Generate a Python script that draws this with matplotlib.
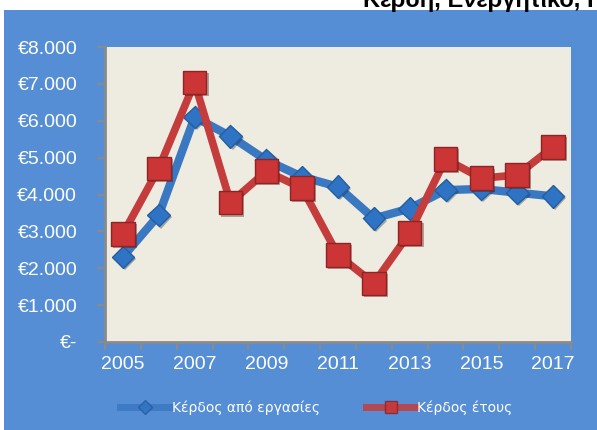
import matplotlib
matplotlib.use("Agg")
import matplotlib.pyplot as plt
import matplotlib.patches as patches
import matplotlib.patheffects as pe
from matplotlib.lines import Line2D

# --- data ---
years = [2005, 2006, 2007, 2008, 2009, 2010, 2011, 2012, 2013, 2014, 2015, 2016, 2017]
profit_ops = [2310, 3440, 6100, 5580, 4930, 4480, 4210, 3350, 3620, 4120, 4150, 4050, 3950]
profit_year = [2930, 4710, 7040, 3780, 4630, 4170, 2360, 1590, 2960, 4960, 4440, 4530, 5290]
series_names = ["Κέρδος από εργασίες", "Κέρδος έτους"]
y_ticks = [0, 1000, 2000, 3000, 4000, 5000, 6000, 7000, 8000]
y_labels = ["€-", "€1.000", "€2.000", "€3.000", "€4.000", "€5.000", "€6.000", "€7.000", "€8.000"]
title_text = "Κέρδη, Ενεργητικό, Παθητικό"

# --- styles ---
BG_BLUE = "#558ED5"
PLOT_BG = "#EEECE1"
BLUE = "#3A78C2"
RED = "#C43C3C"
AXIS_GRAY = "#8A8A8A"
FONT = ["Liberation Sans Narrow", "Liberation Sans", "DejaVu Sans"]

plt.rcParams["font.family"] = FONT

fig = plt.figure(figsize=(5.97, 4.30), dpi=100, facecolor="white")
# blue chart background below the white strip that holds the (clipped) title
fig.patches.append(patches.Rectangle((4 / 597, 0), 1, 420 / 430, transform=fig.transFigure,
                                     facecolor=BG_BLUE, edgecolor="none", zorder=-10))
fig.text(363 / 597, 1 - 7 / 430, title_text, fontsize=17, fontweight="bold",
         family=["Liberation Sans", "DejaVu Sans"], va="baseline", ha="left", color="black")

ax = fig.add_axes([105 / 597, 88 / 430, 466 / 597, 295 / 430])
ax.set_facecolor(PLOT_BG)

xs = list(range(len(years)))
shadow = [pe.SimplePatchShadow(offset=(1.5, -1.5), alpha=0.35), pe.Normal()]

ax.plot(xs, profit_ops, color=BLUE, lw=6, solid_joinstyle="miter", zorder=2)
ax.plot(xs, profit_ops, ls="none", marker="D", ms=11.5, mfc="#2F73C4", mec="#245E9E",
        mew=1, zorder=3, path_effects=shadow)
ax.plot(xs, profit_year, color=RED, lw=5.5, solid_joinstyle="miter", zorder=4)
ax.plot(xs, profit_year, ls="none", marker="s", ms=17, mfc="#CC3535", mec="#8E2424",
        mew=1, zorder=5, path_effects=shadow)

ax.set_xlim(-0.5, len(years) - 0.5)
ax.set_ylim(0, 8000)

ax.set_yticks(y_ticks)
ax.set_yticklabels(y_labels)

# ticks on category boundaries, labels on every other category centre
ax.set_xticks([i - 0.5 for i in range(len(years) + 1)])
ax.set_xticklabels([])
ax.set_xticks(xs[::2], minor=True)
ax.set_xticklabels([str(y) for y in years[::2]], minor=True)

ax.tick_params(axis="y", colors=AXIS_GRAY, labelcolor="white", labelsize=14,
               length=6, width=1.5, pad=14)
ax.tick_params(axis="x", which="major", colors=AXIS_GRAY, length=6, width=1.5)
ax.tick_params(axis="x", which="minor", length=0, labelcolor="white", labelsize=14, pad=10)

for side in ["top", "right"]:
    ax.spines[side].set_visible(False)
for side in ["left", "bottom"]:
    ax.spines[side].set_color(AXIS_GRAY)
    ax.spines[side].set_linewidth(2)

handles = [
    Line2D([], [], color=BLUE, lw=5, marker="D", ms=7, mfc="#2F73C4", mec="#245E9E", alpha=0.85),
    Line2D([], [], color=RED, lw=5, marker="s", ms=9, mfc="#CC3535", mec="#8E2424", alpha=0.85),
]
leg = fig.legend(handles, series_names, loc="center", bbox_to_anchor=(0.53, 22 / 430), ncol=2,
                 frameon=False, handlelength=3.6, columnspacing=3.3, handletextpad=0.1,
                 prop={"family": ["DejaVu Sans"], "size": 10})
for t in leg.get_texts():
    t.set_color("white")

fig.savefig("out.png", dpi=100, facecolor="white")
